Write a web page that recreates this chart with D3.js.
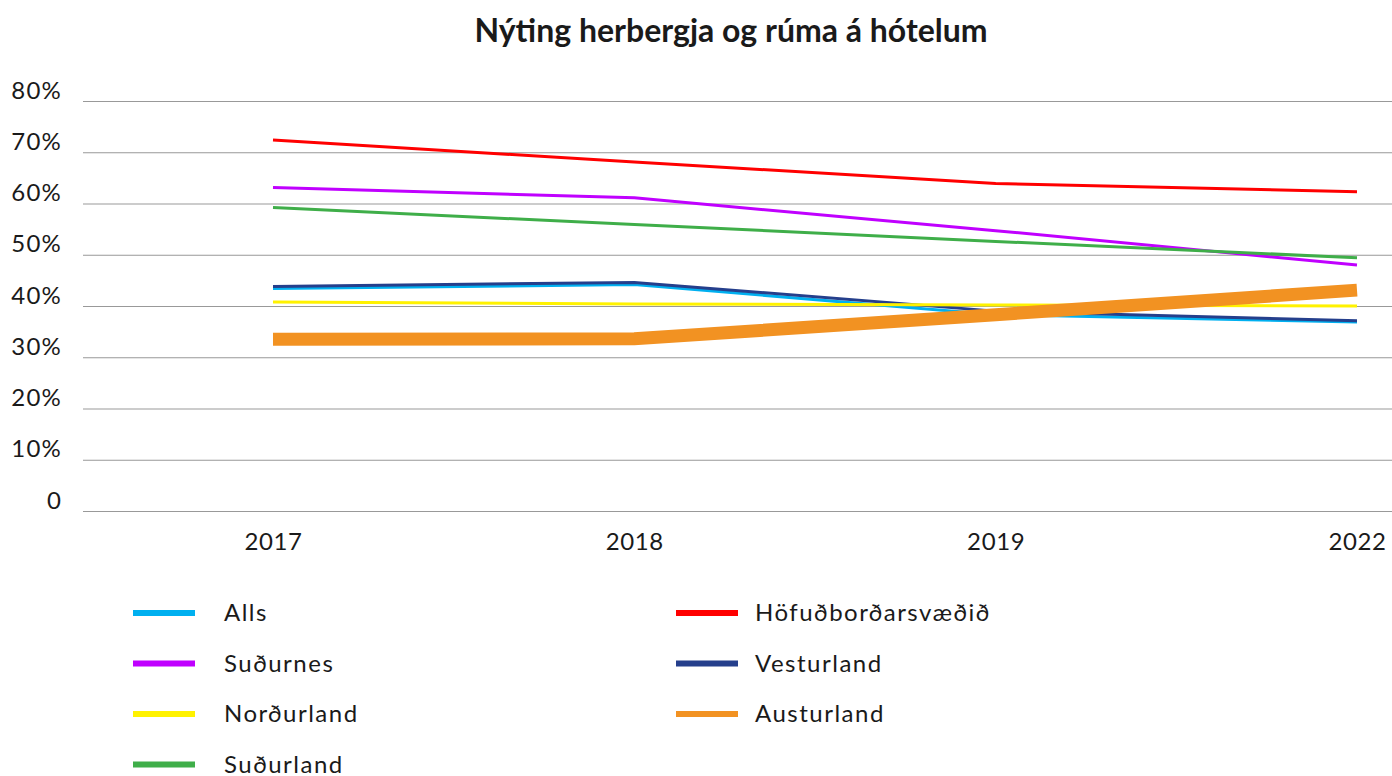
<!DOCTYPE html>
<html>
<head>
<meta charset="utf-8">
<script src="https://cdn.jsdelivr.net/npm/d3@7"></script>
<style>
  body { margin: 0; background: #fff; }
  text { font-family: Lato, "Open Sans", sans-serif; fill: #1a1a1a; }
</style>
</head>
<body>
<div id="chart"></div>
<script>
// data
var years = ["2017", "2018", "2019", "2022"];
var seriesNames = ["Alls", "Höfuðborðarsvæðið", "Suðurnes", "Vesturland", "Norðurland", "Austurland", "Suðurland"];
var seriesColors = ["#00b0f0", "#ff0000", "#c000ff", "#253f8c", "#fff200", "#f29222", "#3fae49"];
var alls = [43.4, 44.2, 38.3, 36.9];
var hofudborg = [72.4, 68.1, 63.9, 62.3];
var sudurnes = [63.1, 61.1, 54.7, 48.0];
var vesturland = [43.8, 44.6, 39.0, 37.1];
var nordurland = [40.8, 40.4, 40.2, 40.0];
var austurland = [33.5, 33.6, 38.3, 43.1];
var sudurland = [59.2, 55.9, 52.6, 49.4];
var yTicks = [0, 10, 20, 30, 40, 50, 60, 70, 80];

var seriesValues = [alls, hofudborg, sudurnes, vesturland, nordurland, austurland, sudurland];

// set the dimensions and margins of the graph
var margin = {top: 101, right: 0, bottom: 265, left: 83},
    width = 1392 - margin.left - margin.right,
    height = 776 - margin.top - margin.bottom;

var svg = d3.select("#chart")
  .append("svg")
    .attr("width", 1392)
    .attr("height", 776)
  .append("g")
    .attr("transform", "translate(" + margin.left + "," + margin.top + ")");

// title
svg.append("text")
    .attr("x", 731 - margin.left)
    .attr("y", 42 - margin.top)
    .attr("text-anchor", "middle")
    .style("font-size", "32px")
    .style("font-weight", "bold")
    .text("Nýting herbergja og rúma á hótelum");

var x = d3.scalePoint()
    .domain(years)
    .range([273 - margin.left, 1357 - margin.left]);

var y = d3.scaleLinear()
    .domain([0, 80])
    .range([height, 0]);

// y axis with grid lines, labels sit above each line
var yAxis = svg.append("g")
    .call(d3.axisLeft(y)
      .tickValues(yTicks)
      .tickSize(-width)
      .tickFormat(function(d) { return d === 0 ? "0" : d + "%"; }));
yAxis.select(".domain").remove();
yAxis.selectAll(".tick line")
    .attr("stroke", "#999")
    .attr("stroke-width", 1.2);
yAxis.selectAll(".tick text")
    .attr("x", -21)
    .attr("y", -3)
    .attr("dy", 0)
    .style("font-size", "24px")
    .style("letter-spacing", "1.2px")
    .style("font-family", "Lato, sans-serif")
    .attr("fill", "#1a1a1a");

// x axis labels
var xAxis = svg.append("g")
    .attr("transform", "translate(0," + height + ")")
    .call(d3.axisBottom(x).tickSize(0));
xAxis.select(".domain").remove();
xAxis.selectAll(".tick text")
    .attr("y", 39)
    .attr("dy", 0)
    .style("font-size", "24px")
    .style("letter-spacing", "0.6px")
    .style("font-family", "Lato, sans-serif")
    .attr("fill", "#1a1a1a");

var line = d3.line()
    .x(function(d, i) { return x(years[i]); })
    .y(function(d) { return y(d); });

// the lines
svg.append("g")
  .selectAll("path")
  .data(seriesValues)
  .enter()
  .append("path")
    .attr("fill", "none")
    .attr("stroke", function(d, i) { return seriesColors[i]; })
    .attr("stroke-width", function(d, i) { return seriesNames[i] === "Austurland" ? 13 : 3; })
    .attr("d", line);

// legend, two columns
var legend = svg.append("g")
  .selectAll("g")
  .data(seriesNames)
  .enter()
  .append("g")
    .attr("transform", function(d, i) {
      var col = i % 2, row = Math.floor(i / 2);
      return "translate(" + ((col === 0 ? 133 : 676) - margin.left) + "," + (613 + row * 50.5 - margin.top) + ")";
    });

legend.append("line")
    .attr("x1", 0)
    .attr("x2", 62)
    .attr("stroke", function(d, i) { return seriesColors[i]; })
    .attr("stroke-width", 6);

legend.append("text")
    .attr("x", function(d, i) { return i % 2 === 0 ? 91 : 79; })
    .attr("y", 8)
    .style("font-size", "24px")
    .style("letter-spacing", "1.5px")
    .text(function(d) { return d; });
</script>
</body>
</html>
